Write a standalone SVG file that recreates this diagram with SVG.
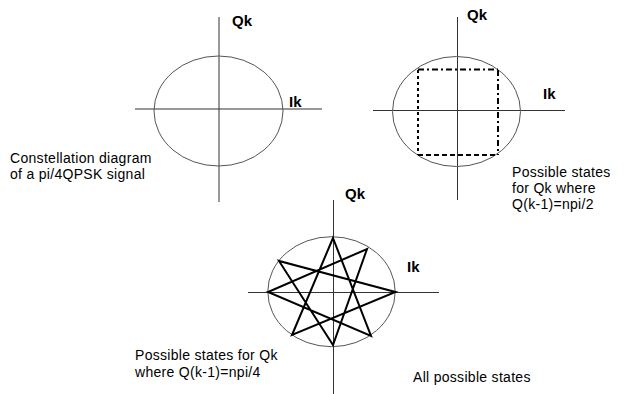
<svg xmlns="http://www.w3.org/2000/svg" width="625" height="394" viewBox="0 0 625 394">
<style>
.axis{stroke:#333;stroke-width:1;fill:none}
.circ{stroke:#555;stroke-width:1;fill:none}
.lbl{font-family:"Liberation Sans",Arial,sans-serif;font-size:15px;font-weight:bold;fill:#000}
.cap{font-family:"Liberation Sans",Arial,sans-serif;font-size:14px;letter-spacing:0.3px;fill:#000}
.sq{stroke:#000;stroke-width:2;fill:none}
.star{stroke:#000;stroke-width:2;fill:none;stroke-linejoin:miter}
</style>
<rect width="625" height="394" fill="#fff"/>
<g id="diagram1">
<line class="axis" x1="219" y1="17" x2="219" y2="202"/>
<line class="axis" x1="135" y1="109" x2="322" y2="109"/>
<ellipse class="circ" cx="218.5" cy="111" rx="64.5" ry="55"/>
<text class="lbl" x="232" y="26">Qk</text>
<text class="lbl" x="289" y="107">Ik</text>
<text class="cap" x="10" y="163">Constellation diagram</text>
<text class="cap" x="10" y="179">of a pi/4QPSK signal</text>
</g>
<g id="diagram2">
<line class="axis" x1="457.5" y1="17" x2="457.5" y2="200"/>
<line class="axis" x1="373" y1="110.5" x2="565" y2="110.5"/>
<ellipse class="circ" cx="456.5" cy="111.5" rx="64" ry="55"/>
<line class="sq" x1="418" y1="69.5" x2="498" y2="69.5" stroke-dasharray="6,3,2,3"/>
<line class="sq" x1="418" y1="70" x2="418" y2="155" stroke-dasharray="3,3"/>
<line class="sq" x1="418" y1="155" x2="498" y2="155" stroke-dasharray="5,3"/>
<line class="sq" x1="498" y1="70" x2="498" y2="155" stroke-dasharray="6,3,2,3"/>
<text class="lbl" x="467" y="20">Qk</text>
<text class="lbl" x="543" y="99">Ik</text>
<text class="cap" x="512" y="177">Possible states</text>
<text class="cap" x="512" y="193">for Qk where</text>
<text class="cap" x="512" y="209">Q(k-1)=npi/2</text>
</g>
<g id="diagram3">
<line class="axis" x1="333.5" y1="200" x2="333.5" y2="394" stroke="#000"/>
<line class="axis" x1="248" y1="292.5" x2="439" y2="292.5" stroke="#000"/>
<ellipse class="circ" cx="331.5" cy="291.7" rx="63.7" ry="55"/>
<polygon class="star" points="333,238 371,336 268,292 367,249 333,345 279,261 395.5,292 292,335"/>
<text class="lbl" x="345" y="199">Qk</text>
<text class="lbl" x="407" y="272">Ik</text>
<text class="cap" x="135" y="360">Possible states for Qk</text>
<text class="cap" x="135" y="377">where Q(k-1)=npi/4</text>
<text class="cap" x="413" y="382">All possible states</text>
</g>
</svg>
